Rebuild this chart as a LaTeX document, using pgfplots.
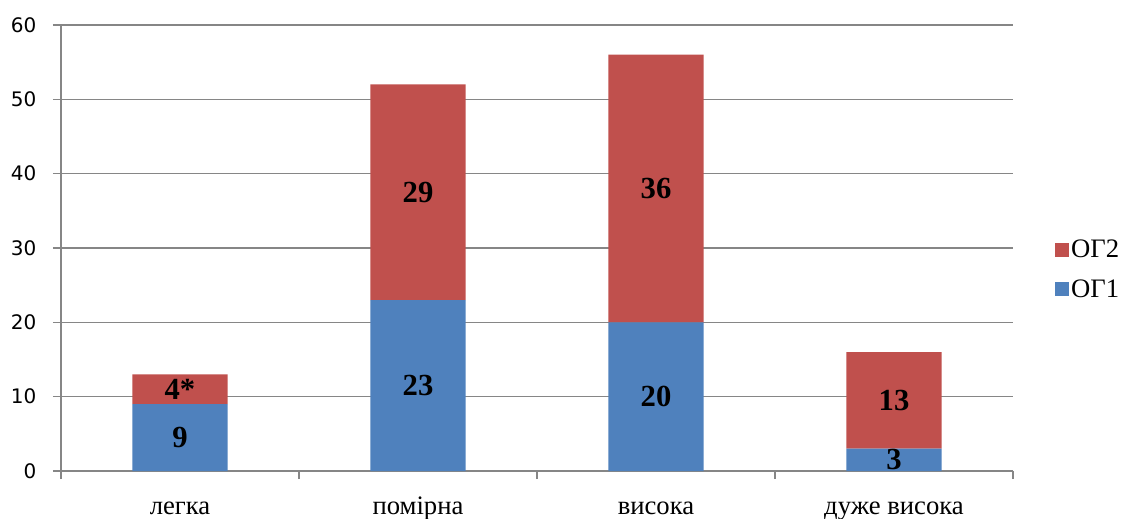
\documentclass[border=0pt]{standalone}
\usepackage{pgfplots}
\pgfplotsset{compat=1.18}
\usepackage{fontspec}
\setmainfont{Liberation Serif}
\newfontfamily\ticksans{DejaVu Sans}
\definecolor{og1}{HTML}{4F81BD}
\definecolor{og2}{HTML}{C0504D}
\definecolor{axisgray}{HTML}{868686}

% value labels in the middle of each stacked segment
\pgfplotsset{
  midlabels/.style={
    nodes near coords,
    point meta=explicit symbolic,
    every node near coord/.append style={anchor=center,
      font=\bfseries\fontsize{23}{25}\selectfont, text=black},
  },
}

\begin{document}
\begin{tikzpicture}
\useasboundingbox (-45.75pt,-35.25pt) rectangle (797.25pt,353.25pt);
\begin{axis}[
  at={(0pt,0pt)}, anchor=south west,
  scale only axis, width=714pt, height=334.5pt,
  ybar stacked, bar width=0.4,
  xmin=-0.5, xmax=3.5, ymin=0, ymax=60,
  xtick={0,1,2,3},
  xticklabels={легка, помірна, висока, дуже висока},
  minor xtick={-0.5,0.5,1.5,2.5,3.5},
  ytick={0,10,...,60},
  axis lines*=left,
  axis line style={axisgray, line width=1pt, -},
  ymajorgrids, grid style={axisgray, line width=1pt},
  tick align=outside,
  major tick length=6pt, minor tick length=6pt,
  every major x tick/.append style={draw=none},
  every minor x tick/.append style={axisgray, line width=1pt},
  every major y tick/.append style={axisgray, line width=1pt},
  /pgf/number format/assume math mode=true,
  yticklabel style={font=\ticksans\fontsize{15}{18}\selectfont, text=black, xshift=-9pt},
  xticklabel style={font=\fontsize{20}{24}\selectfont, text=black, inner sep=0pt,
    anchor=base, yshift=-26.8pt},
  legend style={at={(1.044,0.452)}, anchor=west, draw=none, fill=none,
    inner sep=0pt, row sep=12pt,
    nodes={inner sep=1.5pt},
    font=\fontsize{20}{22}\selectfont},
  legend cell align=left,
  reverse legend,
  legend image code/.code={\fill[#1] (0pt,-5.25pt) rectangle (10.5pt,5.25pt);},
]
\addplot[fill=og1, draw=none, midlabels] table[meta=lab] {
x y lab
0 9 9
1 23 23
2 20 20
3 3 3
};
\addplot[fill=og2, draw=none, midlabels] table[meta=lab] {
x y lab
0 4 4*
1 29 29
2 36 36
3 13 13
};
\legend{ОГ1, ОГ2}
\end{axis}
\end{tikzpicture}
\end{document}
